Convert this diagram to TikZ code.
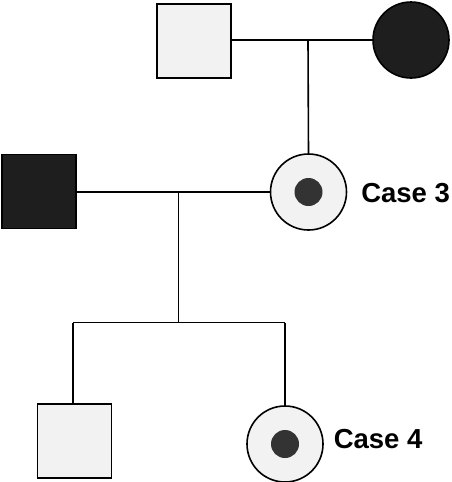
\documentclass[tikz,border=0pt]{standalone}
\usepackage{fontspec}
\setmainfont{Liberation Sans}
\definecolor{lightfill}{HTML}{F2F2F2}
\definecolor{darkfill}{HTML}{1E1E1E}
\definecolor{dotfill}{HTML}{333333}
\begin{document}
\begin{tikzpicture}[x=1pt,y=-1pt,
  line width=1.6pt,
  male/.style={draw=black,rectangle,minimum size=74pt,inner sep=0pt},
  female/.style={draw=black,circle,minimum size=76pt,inner sep=0pt},
  carrierdot/.style={circle,fill=dotfill,minimum size=28pt,inner sep=0pt},
  lbl/.style={font=\bfseries\fontsize{27.5}{30}\selectfont,anchor=base west,inner sep=0pt},
  conn/.style={draw=black,line width=1.6pt}]
\useasboundingbox (0,0) rectangle (451,482);
\node[male,fill=lightfill] (gf) at (194,41) {};
\node[female,fill=darkfill] (gm) at (411,40) {};
\node[male,fill=darkfill] (fa) at (39,191.5) {};
\node[female,fill=lightfill] (c3) at (308.5,192) {};
\node[carrierdot] (c3d) at (308.5,192) {};
\node[male,fill=lightfill] (son) at (74.5,441) {};
\node[female,fill=lightfill] (c4) at (285,444) {};
\node[carrierdot] (c4d) at (285,444) {};
\node[lbl] (l3) at (360.5,202) {Case 3};
\node[lbl] (l4) at (333,448.5) {Case 4};
\coordinate (m1) at (308,40);
\coordinate (m2) at (178.5,192);
\coordinate (s2) at (178.5,322.5);
\coordinate (sl) at (73,322.5);
\coordinate (sr) at (285,322.5);
\draw[conn] (gf.east |- m1) -- (gm.west |- m1);
\draw[conn] (m1) -- (c3.north);
\draw[conn] (fa.east |- m2) -- (c3.west |- m2);
\draw[conn] (m2) -- (s2);
\draw[conn] (sl) -- (sr);
\draw[conn] (sl) -- (sl |- son.north);
\draw[conn] (sr) -- (c4.north);
\end{tikzpicture}
\end{document}
